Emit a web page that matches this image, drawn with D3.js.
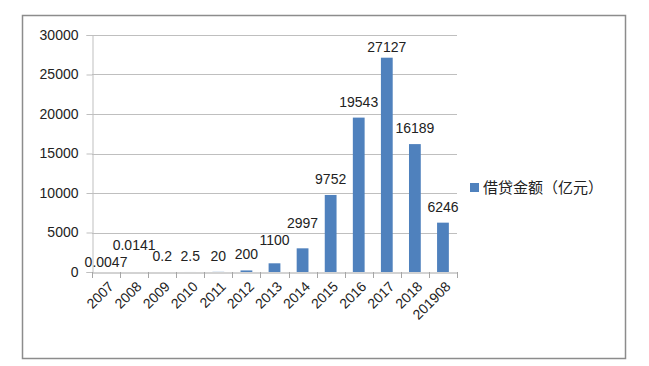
<!DOCTYPE html>
<html><head><meta charset="utf-8">
<script src="https://cdn.jsdelivr.net/npm/d3@7"></script>
<style>
html,body{margin:0;padding:0;background:#fff;}
svg{display:block;}
</style></head>
<body>
<script>
const categories = ["2007","2008","2009","2010","2011","2012","2013","2014","2015","2016","2017","2018","201908"];
const values = [0.0047, 0.0141, 0.2, 2.5, 20, 200, 1100, 2997, 9752, 19543, 27127, 16189, 6246];
const valueLabels = ["0.0047","0.0141","0.2","2.5","20","200","1100","2997","9752","19543","27127","16189","6246"];
const yTicks = [0, 5000, 10000, 15000, 20000, 25000, 30000];
const seriesName = "借贷金额（亿元）";
// vertical nudges of data labels (layout, px)
const labelNudge = [6, -11, 0, 0, 0, 0, -7, -9, 0, 0, 5, 0, 0];

const W = 649, H = 366;
const svg = d3.select("body").append("svg").attr("width", W).attr("height", H);

// outer frame
svg.append("rect").attr("x", 22.5).attr("y", 15.5).attr("width", 603).attr("height", 343)
  .attr("fill", "#fff").attr("stroke", "#8c8c8c").attr("stroke-width", 1.5);

const plot = {left: 92, right: 457, top: 35, bottom: 272};
const x = d3.scaleBand().domain(categories).range([plot.left, plot.right]).padding(0);
const y = d3.scaleLinear().domain([0, 30000]).range([plot.bottom, plot.top]);

const numFont = "'Liberation Sans', Arial, sans-serif";

// gridlines
svg.append("g").selectAll("line").data(yTicks.filter(t => t > 0)).join("line")
  .attr("x1", plot.left).attr("x2", plot.right)
  .attr("y1", d => Math.round(y(d)) + 0.5).attr("y2", d => Math.round(y(d)) + 0.5)
  .attr("stroke", "#bfbfbf").attr("stroke-width", 1);

// y axis
const yAxis = svg.append("g").attr("transform", `translate(${plot.left + 0.5},0)`)
  .call(d3.axisLeft(y).tickValues(yTicks).tickSize(6).tickPadding(8).tickFormat(d3.format("d")));
yAxis.select(".domain").attr("stroke", "#bfbfbf");
yAxis.selectAll(".tick line").attr("stroke", "#bfbfbf");
yAxis.selectAll(".tick text").attr("font-family", numFont).attr("font-size", 14).attr("fill", "#222");

// bars
const bw = x.bandwidth() * 0.42;
svg.append("g").selectAll("rect").data(values).join("rect")
  .attr("x", (d, i) => x(categories[i]) + (x.bandwidth() - bw) / 2)
  .attr("width", bw)
  .attr("y", d => y(d))
  .attr("height", d => plot.bottom - y(d))
  .attr("fill", "#4f81bd");

// x axis
const xAxis = svg.append("g").attr("transform", `translate(0,${plot.bottom + 0.5})`)
  .call(d3.axisBottom(x).tickSize(0).tickFormat(""));
xAxis.select(".domain").attr("stroke", "#a6a6a6");
// tick marks at band boundaries
const bounds = categories.map(c => x(c)).concat([plot.right]);
svg.append("g").selectAll("line").data(bounds).join("line")
  .attr("x1", d => Math.round(d) + 0.5).attr("x2", d => Math.round(d) + 0.5)
  .attr("y1", plot.bottom).attr("y2", plot.bottom + 6)
  .attr("stroke", "#a6a6a6");

// x labels rotated
svg.append("g").selectAll("text").data(categories).join("text")
  .attr("transform", d => `translate(${x(d) + x.bandwidth() / 2 + 5},${plot.bottom + 12}) rotate(-45)`)
  .attr("text-anchor", "end").attr("dy", "0.35em")
  .attr("font-family", numFont).attr("font-size", 14).attr("fill", "#222")
  .text(d => d);

// data labels
svg.append("g").selectAll("text").data(values).join("text")
  .attr("x", (d, i) => x(categories[i]) + x.bandwidth() / 2)
  .attr("y", (d, i) => y(d) - 11 + labelNudge[i])
  .attr("text-anchor", "middle")
  .attr("font-family", numFont).attr("font-size", 14).attr("fill", "#222")
  .text((d, i) => valueLabels[i]);

// legend
const lg = svg.append("g").attr("transform", "translate(470,183)");
lg.append("rect").attr("width", 9).attr("height", 9).attr("fill", "#4f81bd");
lg.append("text").attr("x", 13).attr("y", 4.5).attr("dy", "0.36em")
  .attr("font-family", "'Noto Sans CJK SC', sans-serif").attr("font-size", 15).attr("fill", "#222")
  .text(seriesName);
</script>
</body></html>
